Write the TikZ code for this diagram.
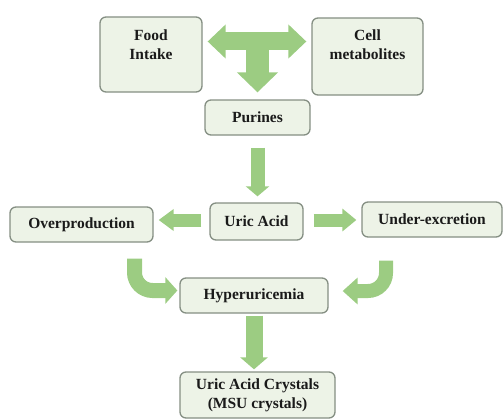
\documentclass[tikz,border=0pt]{standalone}
\usepackage{fontspec}
\setmainfont{Liberation Serif}
\usetikzlibrary{arrows.meta}
\definecolor{boxfill}{HTML}{EDF3E7}
\definecolor{boxline}{HTML}{858F83}
\definecolor{agreen}{HTML}{9CCC82}
\definecolor{txt}{HTML}{1A1A1A}
\tikzset{
  box/.style={draw=boxline, fill=boxfill, rounded corners=6pt, line width=1.3pt,
    font=\fontsize{15.5}{19}\selectfont\bfseries, text=txt, align=center, inner sep=0pt},
  fat/.style={draw=agreen, line width=#1},
  bigtip/.style n args={2}{-{Triangle[length=#1,width=#2]}}
}
\begin{document}
\begin{tikzpicture}[x=1pt,y=-1pt]
\useasboundingbox (0,0) rectangle (503,420);
% boxes
\node[box, minimum width=102pt, minimum height=75pt] (food) at (151,54.5)
  {\parbox[c][75pt][t]{100pt}{\centering\vspace{13pt}Food\\Intake}};
\node[box, minimum width=111pt, minimum height=77pt] (cell) at (367.5,56.5)
  {\parbox[c][77pt][t]{109pt}{\centering\vspace{12pt}Cell\\metabolites}};
\node[box, minimum width=105pt, minimum height=35pt] (purines) at (257.5,117.5) {Purines};
\node[box, minimum width=93pt, minimum height=37pt] (uric) at (256.5,221.5) {Uric Acid};
\node[box, minimum width=143pt, minimum height=35pt] (over) at (81.5,224.5) {Overproduction};
\node[box, minimum width=140pt, minimum height=35pt] (under) at (432,219.5) {Under-excretion};
\node[box, minimum width=148pt, minimum height=35pt] (hyper) at (254,295.5) {Hyperuricemia};
\node[box, minimum width=155pt, minimum height=46pt] (crys) at (257.5,395) {Uric Acid Crystals\\(MSU crystals)};
% T arrow
\coordinate (tl) at ([yshift=13pt]food.east);
\draw[fat=18pt, {Triangle[length=18pt,width=33pt]}-{Triangle[length=18pt,width=33pt]}, shorten <=5pt, shorten >=5pt]
  (tl) -- (cell.west |- tl);
\draw[fat=23pt, bigtip={20pt}{40pt}, shorten >=7pt]
  (purines.north |- tl) -- (purines.north);
% straight arrows
\draw[fat=14pt, bigtip={10pt}{23pt}, shorten <=12pt, shorten >=6pt]
  (purines.south) -- (purines.south |- uric.north);
\draw[fat=13pt, bigtip={15pt}{21pt}, shorten <=8pt, shorten >=5pt]
  ([yshift=1.5pt]uric.west) -- ([yshift=1.5pt]over.east |- uric.west);
\draw[fat=13pt, bigtip={14pt}{22pt}, shorten <=10pt, shorten >=5pt]
  ([yshift=1.5pt]uric.east) -- ([yshift=1.5pt]under.west |- uric.east);
\draw[fat=17pt, bigtip={12pt}{27pt}, shorten <=2pt, shorten >=2pt]
  (hyper.south) -- (hyper.south |- crys.north);
% curved arrows
\coordinate (lc) at ([yshift=5pt]hyper.west);
\coordinate (rc) at ([yshift=4.5pt]hyper.east);
\draw[fat=15pt, bigtip={12pt}{26pt}, rounded corners=18pt, shorten <=16pt, shorten >=2pt]
  ([xshift=53pt]over.south) -- ([xshift=53pt]over.south |- lc) -- (lc);
\draw[fat=14pt, bigtip={15pt}{26pt}, rounded corners=18pt, shorten <=23pt, shorten >=14pt]
  ([xshift=-46pt]under.south) -- ([xshift=-46pt]under.south |- rc) -- (rc);
\end{tikzpicture}
\end{document}
